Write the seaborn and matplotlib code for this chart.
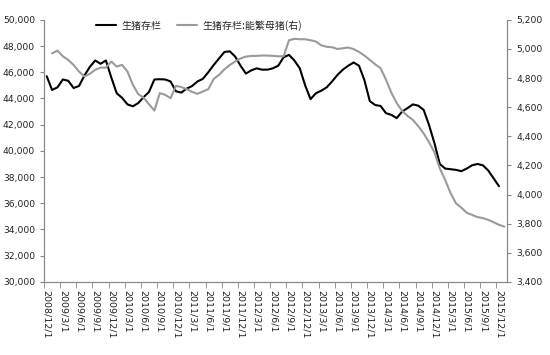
import numpy as np
import pandas as pd
import seaborn as sns
import matplotlib.pyplot as plt
from matplotlib.ticker import FuncFormatter

# monthly categories 2008/12 .. 2016/1
months = pd.date_range('2008-12-01', '2016-01-01', freq='MS')
tick_labels = [f'{d.year}/{d.month}/1' for d in months[::3]]

# 生猪存栏 (left axis), 2008/12 .. 2015/12
hog_stock = [45700, 44650, 44850, 45450, 45350, 44800, 44950, 45750, 46400, 46900,
             46650, 46900, 45600, 44400, 44050, 43550, 43400, 43650, 44100, 44500,
             45450, 45470, 45450, 45300, 44550, 44450, 44750, 44950, 45300, 45500,
             46000, 46550, 47050, 47550, 47600, 47200, 46500, 45900, 46150, 46300,
             46200, 46200, 46300, 46500, 47150, 47330, 46900, 46300, 45000, 43950,
             44400, 44600, 44850, 45300, 45800, 46200, 46500, 46750, 46500, 45400,
             43800, 43500, 43430, 42880, 42750, 42500, 43000, 43260, 43550, 43450,
             43130, 41980, 40600, 39000, 38650, 38600, 38550, 38450, 38650, 38900,
             39000, 38900, 38500, 37900, 37300]

# 生猪存栏:能繁母猪 (right axis), 2009/1 .. 2016/1
sow_ratio = [4970, 4989, 4950, 4925, 4890, 4845, 4811, 4829, 4857, 4872,
             4872, 4914, 4879, 4891, 4845, 4754, 4690, 4665, 4620, 4577,
             4697, 4685, 4662, 4747, 4738, 4724, 4705, 4692, 4708, 4724,
             4793, 4822, 4860, 4890, 4914, 4935, 4948, 4952, 4953, 4955,
             4955, 4953, 4950, 4950, 5060, 5070, 5067, 5067, 5060, 5051,
             5025, 5015, 5012, 5000, 5005, 5010, 4999, 4980, 4955, 4925,
             4895, 4868, 4790, 4700, 4628, 4575, 4540, 4513, 4470, 4420,
             4360, 4290, 4180, 4100, 4010, 3940, 3910, 3875, 3860, 3845,
             3838, 3826, 3810, 3792, 3780]

idx = np.arange(len(months))
df = pd.DataFrame({
    'i': idx,
    'stock': hog_stock + [np.nan],
    'ratio': [np.nan] + sow_ratio,
})

sns.set_style('white')
plt.rcParams['font.family'] = ['DejaVu Sans']

fig = plt.figure(figsize=(5.5, 3.55), dpi=100)
ax = fig.add_axes([0.08, 0.206, 0.842, 0.738])
ax2 = ax.twinx()

sns.lineplot(data=df, x='i', y='stock', ax=ax, color='black', linewidth=1.5,
             label='生猪存栏', legend=False)
sns.lineplot(data=df, x='i', y='ratio', ax=ax2, color='#9a9a9a', linewidth=1.5,
             label='生猪存栏:能繁母猪(右)', legend=False)

ax.set_xlim(-0.5, len(months) - 0.5)
ax.set_ylim(30000, 50000)
ax.set_yticks(np.arange(30000, 50001, 2000))
ax2.set_ylim(3400, 5200)
ax2.set_yticks(np.arange(3400, 5201, 200))
fmt = FuncFormatter(lambda v, p: f'{int(v):,}')
ax.yaxis.set_major_formatter(fmt)
ax2.yaxis.set_major_formatter(fmt)

ax.set_xticks(idx[::3])
ax.set_xticklabels(tick_labels, rotation=-90, fontsize=6.8, color='#222222')
ax.set_xticks(np.arange(-0.5, len(months), 3), minor=True)
ax.tick_params(axis='x', which='major', length=0, pad=6)
ax.tick_params(axis='x', which='minor', length=4, color='#888888', direction='out', bottom=True)
ax.tick_params(axis='y', length=3, color='#888888', direction='out', left=True, labelsize=6.6, labelcolor='#222222')
ax2.tick_params(axis='y', length=3, color='#888888', direction='out', right=True, labelsize=6.6, labelcolor='#222222')

for a in (ax, ax2):
    a.set_xlabel('')
    a.set_ylabel('')
    a.spines['top'].set_visible(False)
    for s in ('left', 'right', 'bottom'):
        a.spines[s].set_color('#888888')
        a.spines[s].set_linewidth(0.8)

h1, l1 = ax.get_legend_handles_labels()
h2, l2 = ax2.get_legend_handles_labels()
ax2.legend(h1 + h2, l1 + l2, loc='upper center', bbox_to_anchor=(0.335, 1.035), ncol=2,
           frameon=False, handlelength=2.0, handletextpad=0.5, columnspacing=1.6,
           prop={'family': ['Noto Sans CJK SC', 'DejaVu Sans'], 'size': 7.2})

fig.savefig('out.png', dpi=100)
